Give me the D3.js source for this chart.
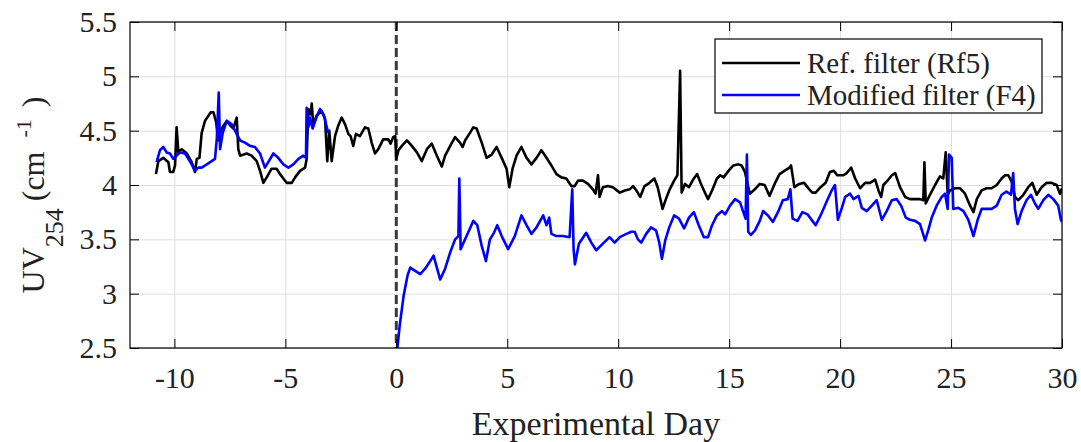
<!DOCTYPE html>
<html>
<head>
<meta charset="utf-8">
<script src="https://cdn.jsdelivr.net/npm/d3@7"></script>
<style>
  body { margin: 0; background: #fff; }
</style>
</head>
<body>
<div id="chart"></div>
<script>
// values
var xTicks = [-10, -5, 0, 5, 10, 15, 20, 25, 30];
var yTicks = [2.5, 3, 3.5, 4, 4.5, 5, 5.5];
var seriesNames = ['Ref. filter (Rf5)', 'Modified filter (F4)'];

var refDay = [-10.83,-10.72,-10.5,-10.27,-10.2,-10.05,-9.97,-9.9,-9.82,-9.67,-9.44,-9.22,-9.07,-8.99,-8.87,-8.77,-8.62,-8.36,-8.24,-8.12,-8.02,-7.87,-7.64,-7.49,-7.34,-7.19,-7.12,-7.04,-6.74,-6.52,-6.29,-6.14,-5.99,-5.84,-5.62,-5.39,-5.24,-5.09,-4.94,-4.71,-4.56,-4.34,-4.11,-4.04,-3.96,-3.86,-3.81,-3.74,-3.59,-3.36,-3.21,-3.11,-3.02,-2.91,-2.76,-2.61,-2.46,-2.31,-2.16,-2.06,-1.94,-1.82,-1.64,-1.41,-1.26,-1.11,-0.96,-0.81,-0.59,-0.36,-0.26,-0.14,-0.05,0,0.1,0.25,0.48,0.7,0.93,1.15,1.38,1.6,1.83,2.05,2.2,2.43,2.65,2.87,2.99,3.1,3.32,3.47,3.62,3.85,4.07,4.3,4.52,4.75,4.97,5.09,5.24,5.42,5.64,5.87,6.09,6.32,6.54,6.77,6.99,7.22,7.44,7.66,7.89,8.04,8.19,8.41,8.64,8.86,8.98,9.09,9.16,9.31,9.54,9.76,10.07,10.3,10.52,10.67,10.82,10.99,11.19,11.41,11.63,11.78,12,12.15,12.3,12.52,12.67,12.79,12.86,13.01,13.19,13.41,13.56,13.71,13.93,14.05,14.23,14.45,14.6,14.75,14.97,15.19,15.42,15.56,15.71,15.93,16.16,16.38,16.6,16.82,17.05,17.27,17.49,17.72,17.79,17.94,18.16,18.38,18.61,18.75,18.9,19.12,19.35,19.54,19.72,19.87,20.15,20.3,20.5,20.68,20.9,21.13,21.35,21.58,21.73,21.85,21.95,22.18,22.33,22.48,22.7,22.93,23.15,23.38,23.6,23.75,23.8,23.86,24.05,24.28,24.5,24.65,24.76,24.85,24.95,25.18,25.41,25.63,25.86,26.01,26.16,26.38,26.6,26.83,27.06,27.28,27.43,27.58,27.73,27.88,28.03,28.26,28.48,28.66,28.86,29.08,29.31,29.53,29.76,29.91,30];
var refUV = [4.1,4.22,4.25,4.21,4.12,4.12,4.18,4.53,4.3,4.33,4.29,4.21,4.12,4.24,4.25,4.48,4.59,4.67,4.67,4.58,4.41,4.52,4.59,4.55,4.52,4.62,4.33,4.27,4.29,4.27,4.22,4.13,4.02,4.07,4.15,4.15,4.1,4.06,4.02,4.02,4.07,4.13,4.16,4.24,4.7,4.65,4.75,4.55,4.64,4.68,4.61,4.22,4.5,4.22,4.45,4.55,4.62,4.56,4.47,4.45,4.36,4.47,4.45,4.53,4.52,4.39,4.29,4.33,4.42,4.42,4.38,4.44,4.45,4.24,4.32,4.36,4.41,4.36,4.3,4.22,4.33,4.38,4.27,4.17,4.27,4.36,4.44,4.39,4.35,4.41,4.48,4.53,4.52,4.39,4.25,4.28,4.35,4.25,4.15,3.98,4.15,4.27,4.35,4.25,4.19,4.25,4.32,4.25,4.18,4.1,4.07,4.06,3.99,3.99,4.04,4.04,4.01,3.96,3.92,4.09,3.89,3.98,3.99,3.98,3.93,3.95,3.96,3.99,3.95,3.89,3.99,4.02,4.06,3.98,3.78,3.87,3.95,4.04,4.09,5.05,3.93,4.01,3.98,4.06,4.1,4.02,3.92,3.87,3.95,4.06,4.09,4.07,4.13,4.18,4.19,4.18,4.12,3.92,3.96,4.01,4,3.9,4.01,4.1,4.13,4.16,4.18,3.98,4.01,4.02,3.96,3.93,3.93,3.98,4.02,4.12,4.13,4.09,4.09,4.11,4.16,4.06,3.97,4.02,4.02,4.05,3.95,3.89,4,4.05,4.09,4.11,3.98,3.89,3.87,3.87,3.87,3.86,4.21,3.83,3.91,4,4.08,4.06,4.3,3.91,3.95,3.97,3.97,3.92,3.81,3.75,3.87,3.95,3.97,3.97,4,4.06,4.09,4.09,4.03,3.89,3.86,3.91,3.98,4.02,3.91,3.98,4.02,4.02,4,3.92,3.97];

// NaN marks the gap in the modified filter record
var modDay = [-10.8,-10.65,-10.5,-10.35,-10.2,-10.05,-9.9,-9.74,-9.52,-9.37,-9.22,-9.07,-8.92,-8.77,-8.54,-8.32,-8.17,-8.09,-8,-7.94,-7.82,-7.64,-7.42,-7.27,-7.04,-6.82,-6.59,-6.37,-6.14,-5.92,-5.77,-5.54,-5.32,-5.09,-4.86,-4.64,-4.41,-4.19,-4.07,-4.04,-3.96,-3.89,-3.77,-3.62,-3.44,-3.26,-3.07,-1.5,0,0.15,0.33,0.51,0.63,0.85,1.08,1.3,1.53,1.68,1.8,1.98,2.2,2.43,2.65,2.8,2.84,2.9,3.1,3.32,3.47,3.65,3.85,4.04,4.22,4.4,4.55,4.75,5.04,5.34,5.64,5.87,6.09,6.32,6.62,6.77,6.89,6.99,7.22,7.51,7.81,7.93,7.99,8.05,8.23,8.56,8.79,9.01,9.31,9.61,9.84,10.07,10.37,10.59,10.74,10.89,11.04,11.26,11.48,11.71,11.85,11.97,12.12,12.3,12.52,12.74,12.97,13.19,13.41,13.63,13.86,14.05,14.23,14.45,14.68,14.82,15.04,15.27,15.49,15.64,15.74,15.8,15.86,15.98,16.16,16.38,16.53,16.75,16.97,17.2,17.42,17.64,17.76,17.86,18.08,18.3,18.53,18.75,18.9,19.12,19.42,19.62,19.77,19.9,20.08,20.23,20.45,20.6,20.83,20.98,21.2,21.43,21.65,21.88,22.1,22.33,22.55,22.75,22.96,23.15,23.38,23.6,23.83,23.98,24.13,24.35,24.58,24.73,24.85,24.91,25.03,25.1,25.33,25.56,25.78,26.01,26.2,26.38,26.6,26.83,27.06,27.28,27.5,27.7,27.8,27.88,28,28.18,28.4,28.6,28.78,28.93,29.16,29.38,29.61,29.83,29.95,30];
var modUV = [4.21,4.32,4.35,4.3,4.29,4.24,4.27,4.3,4.29,4.24,4.19,4.13,4.16,4.16,4.19,4.22,4.24,4.42,4.85,4.33,4.48,4.59,4.56,4.5,4.41,4.39,4.36,4.35,4.29,4.16,4.21,4.29,4.25,4.19,4.16,4.19,4.24,4.27,4.25,4.71,4.53,4.62,4.52,4.61,4.7,4.64,4.48,NaN,2.4,2.7,2.98,3.17,3.24,3.21,3.18,3.23,3.3,3.35,3.26,3.13,3.23,3.38,3.5,3.53,4.06,3.41,3.5,3.6,3.67,3.63,3.44,3.3,3.5,3.56,3.63,3.53,3.41,3.53,3.72,3.63,3.55,3.61,3.72,3.63,3.7,3.55,3.53,3.53,3.52,3.96,3.41,3.27,3.46,3.56,3.47,3.4,3.46,3.52,3.47,3.52,3.55,3.57,3.57,3.5,3.47,3.55,3.61,3.58,3.47,3.32,3.49,3.61,3.72,3.69,3.6,3.7,3.75,3.63,3.52,3.52,3.63,3.72,3.76,3.73,3.81,3.87,3.84,3.75,3.69,4.28,3.57,3.54,3.58,3.67,3.76,3.72,3.66,3.75,3.86,3.87,3.96,3.69,3.67,3.75,3.73,3.67,3.63,3.72,3.86,3.95,4,3.68,3.79,3.89,3.92,3.87,3.9,3.79,3.76,3.81,3.86,3.68,3.76,3.86,3.87,3.81,3.7,3.68,3.67,3.64,3.49,3.59,3.7,3.81,3.89,3.92,3.78,4.28,4.25,3.78,3.79,3.76,3.68,3.53,3.68,3.78,3.78,3.78,3.81,3.91,3.94,3.91,4.11,3.78,3.64,3.76,3.86,3.91,3.83,3.78,3.86,3.91,3.87,3.81,3.68,3.66];

var dim = {
    'width': 1081,
    'height': 442
};
var plot = { left: 130, right: 1062, top: 22, bottom: 348 };
var serif = "'Liberation Serif'";

var svg = d3.select('#chart').append('svg')
    .attr('width', dim.width)
    .attr('height', dim.height);

var x = d3.scaleLinear().domain([-12, 30]).range([plot.left, plot.right]);
var y = d3.scaleLinear().domain([2.5, 5.5]).range([plot.bottom, plot.top]);

var plotH = plot.bottom - plot.top;
var plotW = plot.right - plot.left;

// grid
svg.append('g')
    .attr('transform', `translate(0,${plot.bottom})`)
    .call(d3.axisBottom(x).tickValues(xTicks).tickSize(-plotH).tickFormat(''))
    .call(g => g.select('.domain').remove())
    .call(g => g.selectAll('line').attr('stroke', '#dedede'));
svg.append('g')
    .attr('transform', `translate(${plot.left},0)`)
    .call(d3.axisLeft(y).tickValues(yTicks).tickSize(-plotW).tickFormat(''))
    .call(g => g.select('.domain').remove())
    .call(g => g.selectAll('line').attr('stroke', '#dedede'));

svg.append('defs').append('clipPath').attr('id', 'clip')
    .append('rect')
    .attr('x', plot.left).attr('y', plot.top)
    .attr('width', plotW).attr('height', plotH);

// day 0 marker
svg.append('line')
    .attr('x1', x(0)).attr('x2', x(0))
    .attr('y1', plot.top).attr('y2', plot.bottom)
    .attr('stroke', '#3a3a3a')
    .attr('stroke-width', 3)
    .attr('stroke-dasharray', '9,4');

var line = d3.line()
    .defined(d => !isNaN(d[1]))
    .x(d => x(d[0]))
    .y(d => y(d[1]));

var refData = refDay.map((d, i) => [d, refUV[i]]);
var modData = modDay.map((d, i) => [d, modUV[i]]);

var lines = svg.append('g').attr('clip-path', 'url(#clip)');
lines.append('path')
    .datum(refData)
    .attr('d', line)
    .attr('fill', 'none')
    .attr('stroke', '#000')
    .attr('stroke-width', 2.6)
    .attr('stroke-linejoin', 'round');
lines.append('path')
    .datum(modData)
    .attr('d', line)
    .attr('fill', 'none')
    .attr('stroke', '#0000ff')
    .attr('stroke-width', 2.6)
    .attr('stroke-linejoin', 'round');

// axes, ticks pointing inward
var fontSize = 30;
svg.append('g')
    .attr('transform', `translate(0,${plot.bottom})`)
    .call(d3.axisBottom(x).tickValues(xTicks).tickSize(-9).tickPadding(19).tickFormat(d => d))
    .call(g => g.select('.domain').remove())
    .call(g => g.selectAll('text').style('font-family', serif).attr('font-size', fontSize).attr('fill', '#222'));
svg.append('g')
    .attr('transform', `translate(0,${plot.top})`)
    .call(d3.axisTop(x).tickValues(xTicks).tickSize(-9).tickFormat(''))
    .call(g => g.select('.domain').remove());
svg.append('g')
    .attr('transform', `translate(${plot.left},0)`)
    .call(d3.axisLeft(y).tickValues(yTicks).tickSize(-9).tickPadding(13).tickFormat(d => d))
    .call(g => g.select('.domain').remove())
    .call(g => g.selectAll('text').style('font-family', serif).attr('font-size', fontSize).attr('fill', '#222'));
svg.append('g')
    .attr('transform', `translate(${plot.right},0)`)
    .call(d3.axisRight(y).tickValues(yTicks).tickSize(-9).tickFormat(''))
    .call(g => g.select('.domain').remove());

svg.append('rect')
    .attr('x', plot.left).attr('y', plot.top)
    .attr('width', plotW).attr('height', plotH)
    .attr('fill', 'none')
    .attr('stroke', '#000')
    .attr('stroke-width', 1.2);

// axis titles
svg.append('text')
    .attr('x', (plot.left + plot.right) / 2)
    .attr('y', 435)
    .attr('text-anchor', 'middle')
    .style('font-family', serif)
    .attr('font-size', 34)
    .attr('fill', '#222')
    .text('Experimental Day');

var yl = svg.append('text')
    .attr('transform', 'translate(44,195) rotate(-90)')
    .attr('text-anchor', 'middle')
    .style('font-family', serif)
    .attr('font-size', 32)
    .attr('fill', '#222');
yl.append('tspan').text('UV');
yl.append('tspan').attr('dy', 19).attr('font-size', 26).text('254');
yl.append('tspan').attr('dy', -19).attr('dx', 7).text('(cm');
yl.append('tspan').attr('dy', -13).attr('dx', 14).attr('font-size', 22).text('-1');
yl.append('tspan').attr('dy', 13).attr('dx', 12).text(')');

// legend
var legend = svg.append('g');
legend.append('rect')
    .attr('x', 715).attr('y', 39)
    .attr('width', 327).attr('height', 74)
    .attr('fill', '#fff')
    .attr('stroke', '#000')
    .attr('stroke-width', 1.2);
var legendColors = ['#000', '#0000ff'];
seriesNames.forEach(function (name, i) {
    var ly = 63 + i * 32;
    legend.append('line')
        .attr('x1', 722).attr('x2', 800)
        .attr('y1', ly).attr('y2', ly)
        .attr('stroke', legendColors[i])
        .attr('stroke-width', 2.6);
    legend.append('text')
        .attr('x', 807).attr('y', ly + 10)
        .style('font-family', serif)
        .attr('font-size', 29)
        .attr('fill', '#222')
        .text(name);
});
</script>
</body>
</html>
